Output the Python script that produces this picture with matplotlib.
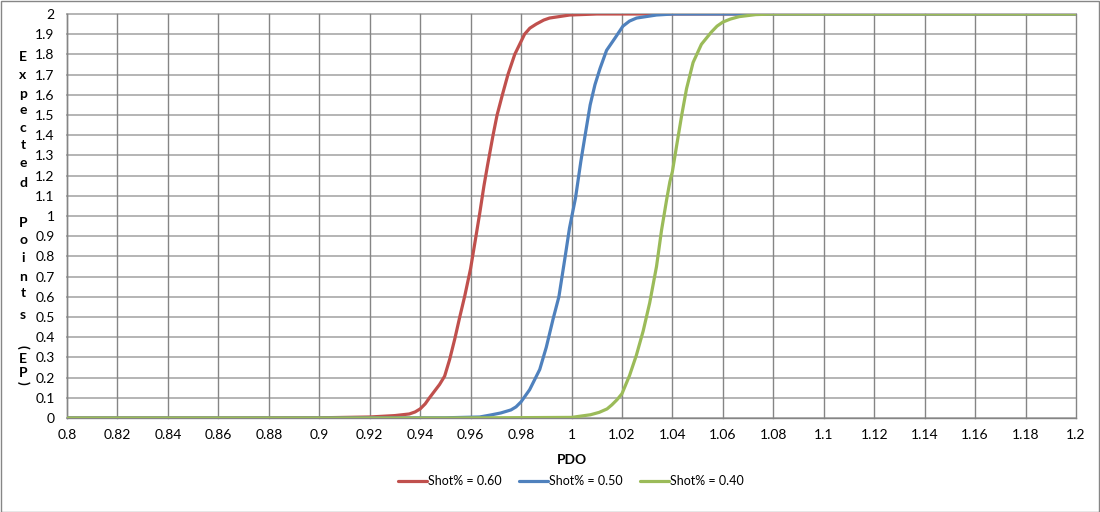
import matplotlib

matplotlib.use("Agg")
import matplotlib.pyplot as plt
import numpy as np
from matplotlib.patches import Rectangle

plt.rcParams["font.family"] = ["Lato", "DejaVu Sans"]

# values
red_pdo = [0.80, 0.86, 0.90, 0.92, 0.93, 0.9357, 0.938, 0.94, 0.942, 0.9437, 0.9477,
           0.9497, 0.9517, 0.9537, 0.9557, 0.9577, 0.96, 0.962, 0.9637, 0.9653,
           0.9667, 0.9689, 0.9705, 0.9726, 0.9748, 0.9775, 0.9814, 0.9835, 0.986,
           0.989, 0.9913, 0.9993, 1.01, 1.2]
red_ep = [0, 0, 0.001, 0.005, 0.012, 0.02, 0.03, 0.045, 0.07, 0.1, 0.166,
          0.207, 0.29, 0.39, 0.5, 0.605, 0.74, 0.89, 1.02, 1.15,
          1.25, 1.4, 1.5, 1.6, 1.7, 1.8, 1.9, 1.93, 1.95,
          1.97, 1.98, 1.995, 2.0, 2.0]

blue_pdo = [0.80, 0.90, 0.95, 0.9636, 0.968, 0.972, 0.976, 0.978, 0.98, 0.9834,
            0.9874, 0.99, 0.9927, 0.995, 0.9975, 0.9992, 1.0016, 1.0037, 1.0054,
            1.0074, 1.0093, 1.0113, 1.0139, 1.0172, 1.0204, 1.023, 1.0258, 1.0337,
            1.0403, 1.2]
blue_ep = [0, 0, 0.001, 0.005, 0.015, 0.025, 0.04, 0.055, 0.08, 0.14,
           0.24, 0.35, 0.49, 0.6, 0.8, 0.94, 1.09, 1.27, 1.4,
           1.55, 1.65, 1.73, 1.82, 1.88, 1.94, 1.965, 1.98, 1.995,
           2.0, 2.0]

green_pdo = [0.80, 0.95, 1.0, 1.0075, 1.011, 1.0141, 1.016, 1.018, 1.02, 1.023,
             1.0257, 1.0284, 1.031, 1.0337, 1.0357, 1.0377, 1.039, 1.04, 1.0417,
             1.0437, 1.0456, 1.0482, 1.0515, 1.0554, 1.0577, 1.06, 1.063, 1.0665,
             1.073, 1.08, 1.2]
green_ep = [0, 0, 0.003, 0.016, 0.028, 0.045, 0.065, 0.09, 0.12, 0.21,
            0.31, 0.43, 0.57, 0.75, 0.93, 1.08, 1.17, 1.22, 1.35,
            1.5, 1.63, 1.76, 1.85, 1.91, 1.94, 1.96, 1.975, 1.987,
            1.997, 2.0, 2.0]

series = [
    ("Shot% = 0.60", red_pdo, red_ep, "#c0504d"),
    ("Shot% = 0.50", blue_pdo, blue_ep, "#4f81bd"),
    ("Shot% = 0.40", green_pdo, green_ep, "#9bbb59"),
]

x_ticks = np.round(np.arange(0.8, 1.2001, 0.02), 2)
y_ticks = np.round(np.arange(0, 2.001, 0.1), 1)

W, H = 1100, 512
fig = plt.figure(figsize=(W / 100, H / 100), dpi=100)
ax = fig.add_axes([67 / W, 1 - 418 / H, (1076 - 67) / W, (418 - 14) / H])

for label, xs, ys, color in series:
    ax.plot(xs, ys, color=color, lw=2.3, label=label, zorder=3,
            solid_joinstyle="round", solid_capstyle="round")

ax.set_xlim(0.8, 1.2)
ax.set_ylim(0, 2)
ax.set_xticks(x_ticks)
ax.set_xticklabels([f"{v:g}" for v in x_ticks])
ax.set_yticks(y_ticks)
ax.set_yticklabels([f"{v:g}" for v in y_ticks])
ax.tick_params(length=0, labelsize=10, colors="#000000")
ax.tick_params(axis="x", pad=8)
ax.tick_params(axis="y", pad=9)

for v in y_ticks:
    ax.axhline(v, color="#b4b4b4", lw=1.4, zorder=1, clip_on=False)
for v in x_ticks:
    ax.axvline(v, color="#858585", lw=1.0, zorder=1.5, clip_on=False)
for s in ax.spines.values():
    s.set_visible(False)
ax.plot([0.8, 0.8], [0, 2], color="#858585", lw=1.0, zorder=2, clip_on=False)
ax.plot([0.8, 1.2], [0, 0], color="#858585", lw=1.0, zorder=2, clip_on=False)

ax.set_xlabel("PDO", fontsize=10, fontweight="bold", labelpad=9)

# stacked vertical y-axis title
ylabel_chars = [("E", 56.7), ("x", 75), ("p", 94.3), ("e", 110), ("c", 128.3),
                ("t", 145), ("e", 163.3), ("d", 183.3), ("P", 223.3), ("o", 240),
                ("i", 258.3), ("n", 276.7), ("t", 293.3), ("s", 315),
                ("(", 346.7), ("E", 359.3), ("P", 373.3), (")", 383.3)]
for ch, yp in ylabel_chars:
    rot = -90 if ch in "()" else 0
    fig.text(23 / W, 1 - yp / H, ch, fontsize=10, fontweight="bold",
             ha="center", va="center", rotation=rot)

fig.legend(loc="center", bbox_to_anchor=(571 / W, 1 - 481 / H), ncol=3,
           frameon=False, fontsize=9, handlelength=2.3, handletextpad=0.1,
           columnspacing=1.4)

fig.patches.append(Rectangle((0.5 / W, 0.5 / H), (W - 1.5) / W, (H - 1.5) / H,
                             transform=fig.transFigure, fill=False,
                             edgecolor="#868686", lw=1.0))

fig.savefig("out.png", dpi=100, facecolor="white")
